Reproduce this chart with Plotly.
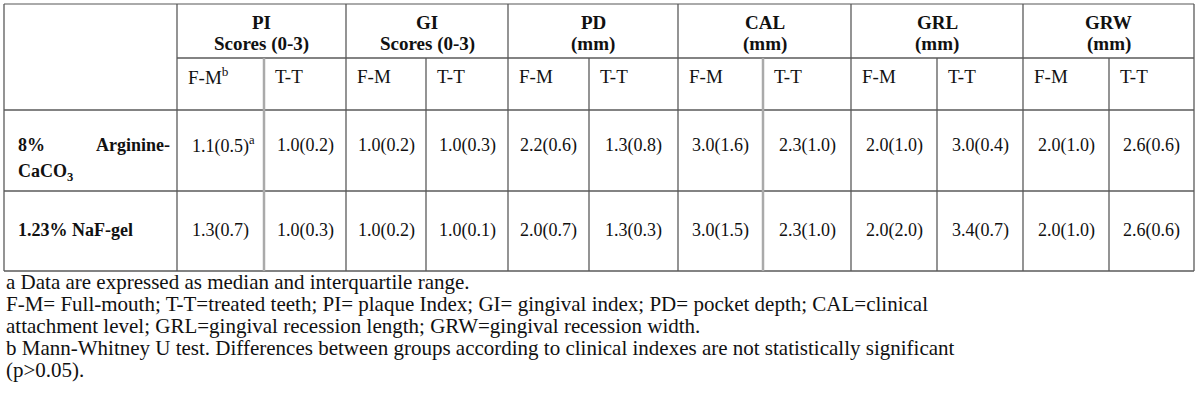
import plotly.graph_objects as go

# ---- data ----
groups = ["PI", "GI", "PD", "CAL", "GRL", "GRW"]
units = ["Scores (0-3)", "Scores (0-3)", "(mm)", "(mm)", "(mm)", "(mm)"]
sub_labels = ["F-M", "T-T"]
row_labels = ["8% Arginine-CaCO3", "1.23% NaF-gel"]
arginine_vals = ["1.1(0.5)", "1.0(0.2)", "1.0(0.2)", "1.0(0.3)", "2.2(0.6)", "1.3(0.8)",
                 "3.0(1.6)", "2.3(1.0)", "2.0(1.0)", "3.0(0.4)", "2.0(1.0)", "2.6(0.6)"]
naf_vals = ["1.3(0.7)", "1.0(0.3)", "1.0(0.2)", "1.0(0.1)", "2.0(0.7)", "1.3(0.3)",
            "3.0(1.5)", "2.3(1.0)", "2.0(2.0)", "3.4(0.7)", "2.0(1.0)", "2.6(0.6)"]
footnotes = [
    "a Data are expressed as median and interquartile range.",
    "F-M= Full-mouth; T-T=treated teeth; PI= plaque Index; GI= gingival index; PD= pocket depth; CAL=clinical",
    "attachment level; GRL=gingival recession length; GRW=gingival recession width.",
    "b Mann-Whitney U test. Differences between groups according to clinical indexes are not statistically significant",
    "(p>0.05).",
]

# ---- layout geometry ----
col_x = [4, 177, 264, 346, 426, 508, 589, 678, 763, 851, 937, 1023, 1109, 1194]
row_y = [4, 58, 110, 191, 271]
FONT = "Liberation Serif, Times New Roman, serif"
DARK = "#5a5a5a"
LIGHT = "#aaaaaa"

fig = go.Figure()
shapes = []
def line(x0, y0, x1, y1, color=DARK, width=1.3):
    shapes.append(dict(type="line", xref="x", yref="y", x0=x0, y0=y0, x1=x1, y1=y1,
                       line=dict(color=color, width=width)))

line(col_x[0], row_y[0], col_x[-1], row_y[0], LIGHT, 2)
line(col_x[1], row_y[1], col_x[-1], row_y[1])
for y in row_y[2:]:
    line(col_x[0], y, col_x[-1], y)
for i, x in enumerate(col_x):
    if i in (0, 1) or i == len(col_x) - 1 or i % 2 == 1:
        line(x, row_y[0], x, row_y[-1])
    else:
        c = LIGHT if i in (2, 8) else DARK
        w = 2.5 if i in (2, 8) else 1.3
        line(x, row_y[1], x, row_y[-1], c, w)

ann = []
def text(x, y, s, size=18, bold=False, xanchor="center"):
    if bold:
        s = "<b>" + s + "</b>"
    ann.append(dict(x=x, y=y, xref="x", yref="y", text=s, showarrow=False,
                    xanchor=xanchor, yanchor="middle",
                    font=dict(family=FONT, size=size, color="#111111")))

for g in range(len(groups)):
    cx = (col_x[1 + 2 * g] + col_x[3 + 2 * g]) / 2
    text(cx, 22, groups[g], 19, True)
    text(cx, 44, units[g], 19, True)
for c in range(12):
    lab = sub_labels[c % 2]
    if c == 0:
        lab = lab + "<sup>b</sup>"
    text(col_x[1 + c] + 9, 76, lab, 19, False, "left")
text(16, 145, "8%", 18, True, "left")
text(172, 145, "Arginine-", 18, True, "right")
text(16, 172, "CaCO<sub>3</sub>", 18, True, "left")
text(16, 230, row_labels[1], 18, True, "left")
for vals, y in ((arginine_vals, 145), (naf_vals, 230)):
    for c, v in enumerate(vals):
        cx = (col_x[1 + c] + col_x[2 + c]) / 2
        s = v
        if y == 145 and c == 0:
            s = v + "<sup>a</sup>"
            cx += 3
        text(cx, y, s, 18)
for k, f in enumerate(footnotes):
    text(4, 282 + 22 * k, f, 21, False, "left")

fig.update_layout(
    width=1200, height=405, margin=dict(l=0, r=0, t=0, b=0),
    paper_bgcolor="white", plot_bgcolor="white",
    xaxis=dict(range=[0, 1200], visible=False, fixedrange=True),
    yaxis=dict(range=[405, 0], visible=False, fixedrange=True),
    shapes=shapes, annotations=ann, showlegend=False,
)
fig.write_html("out.html", config={"displayModeBar": False},
               post_script="document.body.style.margin='0px';document.body.style.overflow='hidden';")
